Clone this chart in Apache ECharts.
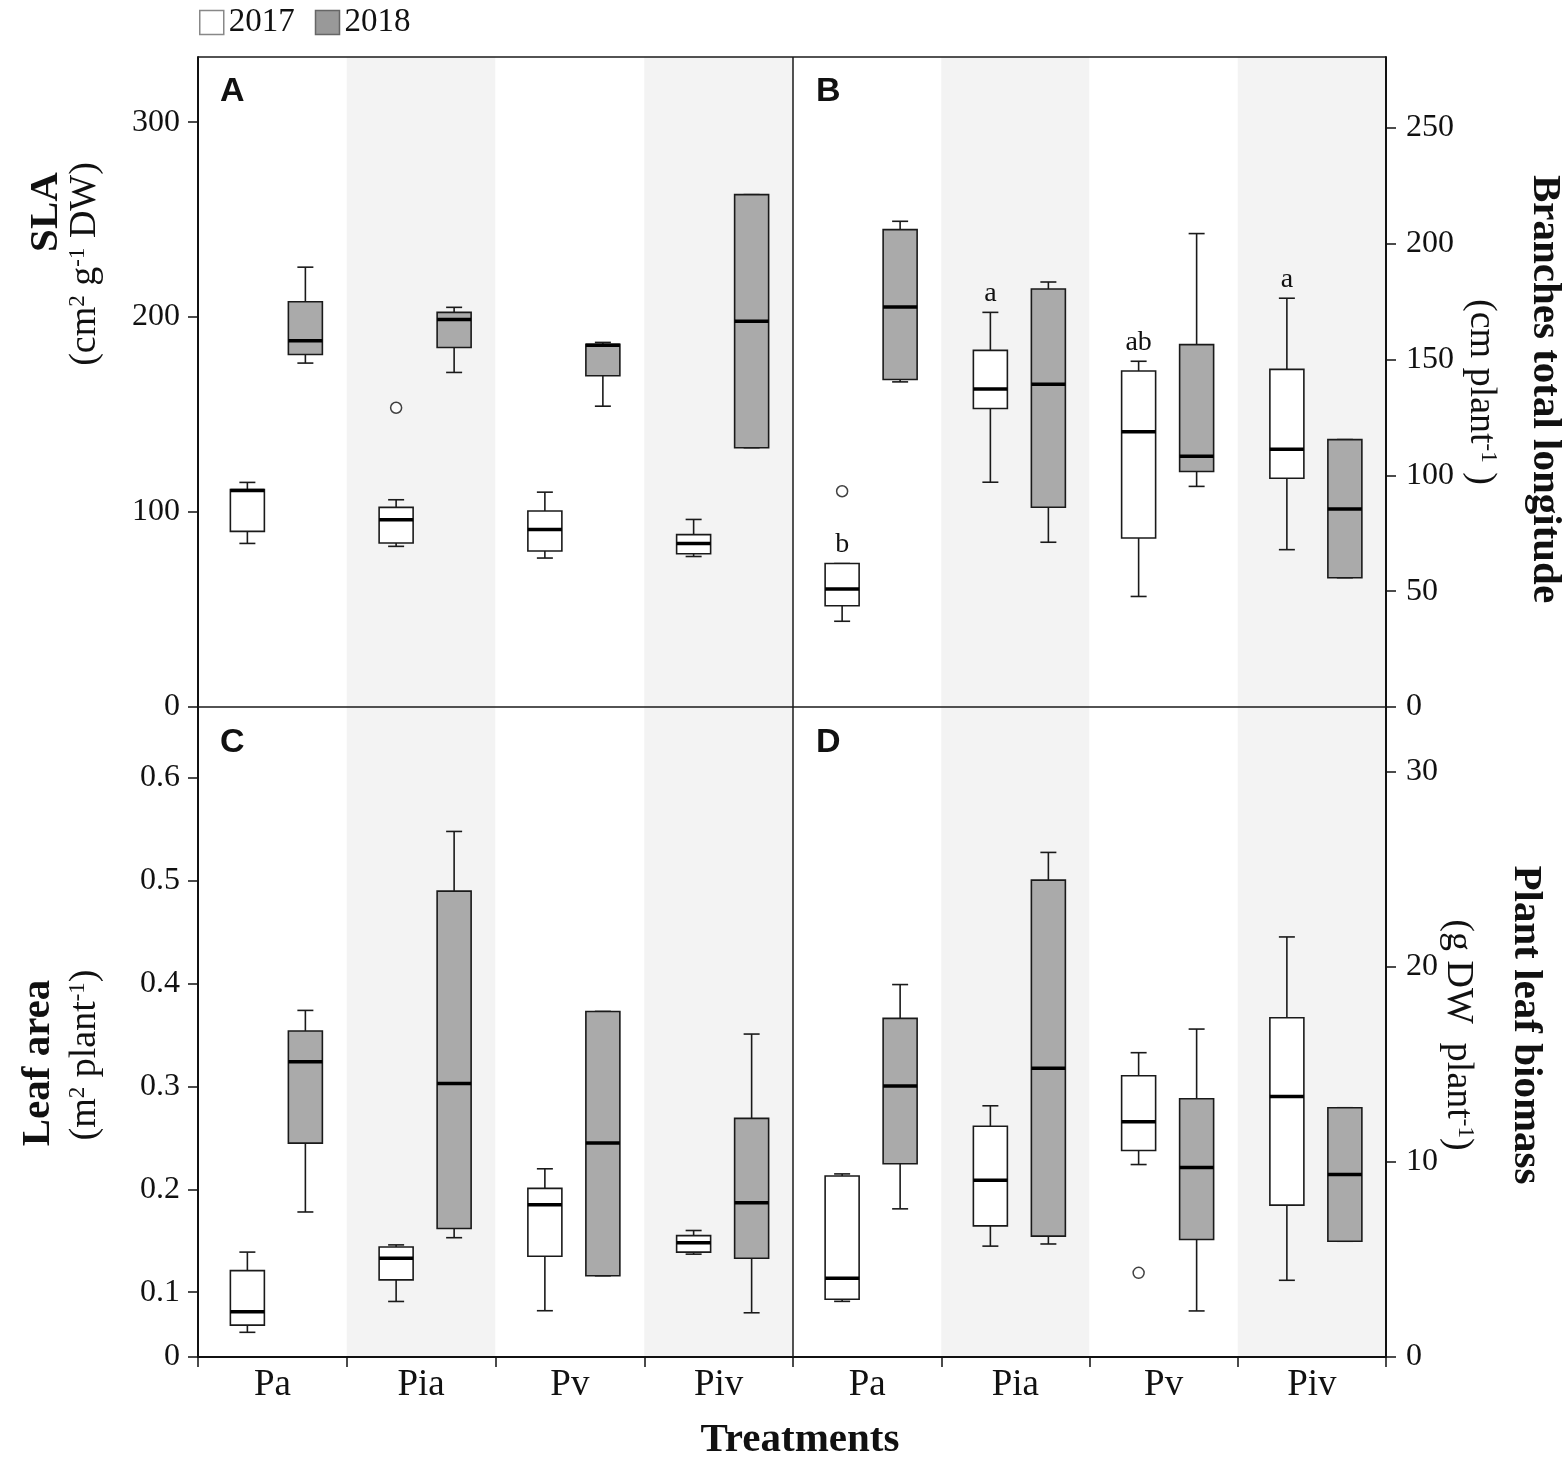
<!DOCTYPE html>
<html>
<head>
<meta charset="utf-8">
<title>SLA, branches, leaf area and leaf biomass</title>
<script src="https://cdn.jsdelivr.net/npm/echarts@6.0.0/dist/echarts.min.js"></script>
<style>
    html, body { margin: 0; padding: 0; background: #fff; }
    #main { width: 1566px; height: 1460px; }
</style>
</head>
<body>
<div id="main"></div>
<script>
var cats = ['Pa', 'Pia', 'Pv', 'Piv'];
var years = ['2017', '2018'];

// each box: [min, q1, median, q3, max], one per treatment
var sla2017 = [[83.9, 90.1, 111.0, 111.5, 115.2], [82.4, 84.1, 96.1, 102.4, 106.3], [76.4, 80.0, 91.1, 100.5, 110.2], [77.2, 78.6, 83.8, 88.4, 96.2]];
var sla2018 = [[176.4, 180.8, 187.9, 207.9, 225.6], [171.6, 184.4, 198.8, 202.4, 205.0], [154.3, 169.9, 185.6, 186.1, 187.0], [133.0, 133.0, 197.8, 262.8, 262.8]];
var slaOut2017 = [['Pia', 153.5]];

var branch2017 = [[37.0, 43.7, 50.9, 61.9, 61.9], [97.0, 128.8, 137.2, 153.9, 170.3], [47.7, 72.9, 118.8, 145.0, 149.2], [67.9, 98.7, 111.2, 145.7, 176.4]];
var branch2018 = [[140.3, 141.3, 172.6, 206.0, 209.6], [71.1, 86.2, 139.3, 180.4, 183.4], [95.2, 101.6, 108.2, 156.4, 204.3], [55.8, 55.8, 85.4, 115.4, 115.4]];
var branchOut2017 = [['Pa', 93.1]];
var branchLetters = ['b', 'a', 'ab', 'a'];

var leaf2017 = [[0.061, 0.068, 0.081, 0.121, 0.139], [0.091, 0.112, 0.133, 0.144, 0.146], [0.082, 0.135, 0.185, 0.201, 0.220], [0.137, 0.139, 0.148, 0.155, 0.160]];
var leaf2018 = [[0.178, 0.245, 0.324, 0.354, 0.374], [0.153, 0.162, 0.303, 0.490, 0.548], [0.116, 0.116, 0.245, 0.373, 0.373], [0.080, 0.133, 0.187, 0.269, 0.351]];

var biomass2017 = [[2.85, 2.96, 4.04, 9.27, 9.38], [5.68, 6.72, 9.06, 11.82, 12.87], [9.86, 10.58, 12.05, 14.41, 15.59], [3.93, 7.78, 13.35, 17.38, 21.52]];
var biomass2018 = [[7.59, 9.90, 13.88, 17.35, 19.08], [5.79, 6.19, 14.79, 24.43, 25.85], [2.36, 6.02, 9.71, 13.23, 16.80], [5.93, 5.93, 9.35, 12.77, 12.77]];
var biomassOut2017 = [['Pv', 4.31]];

// axis ticks
var slaTicks = [0, 100, 200, 300];
var branchTicks = [0, 50, 100, 150, 200, 250];
var leafMin = 0.037;
var leafTicks = [leafMin, 0.1, 0.2, 0.3, 0.4, 0.5, 0.6];
var leafTickText = ['0', '0.1', '0.2', '0.3', '0.4', '0.5', '0.6'];
var biomassTicks = [0, 10, 20, 30];

var SERIF = '"Liberation Serif", "Times New Roman", serif';
var SANS = '"Liberation Sans", Arial, sans-serif';
var INK = '#111';
var GREY = '#aaaaaa';
var OFF17 = -25, OFF18 = 33;   // box shift from band centre, px

function boxData(arr) {
    return arr.map(function (d, i) { return [i].concat(d); });
}

function boxItem(shift, fill, letters) {
    return function (params, api) {
        var i = api.value(0);
        var x = api.coord([i, 0])[0] + shift;
        var y = function (k) { return api.coord([i, api.value(k)])[1]; };
        var yMin = y(1), yQ1 = y(2), yMed = y(3), yQ3 = y(4), yMax = y(5);
        var hw = 17, cw = 8;
        var ln = { stroke: '#1a1a1a', lineWidth: 1.6 };
        var kids = [
            { type: 'line', shape: { x1: x, y1: yMax, x2: x, y2: yQ3 }, style: ln },
            { type: 'line', shape: { x1: x, y1: yQ1, x2: x, y2: yMin }, style: ln },
            { type: 'line', shape: { x1: x - cw, y1: yMax, x2: x + cw, y2: yMax }, style: ln },
            { type: 'line', shape: { x1: x - cw, y1: yMin, x2: x + cw, y2: yMin }, style: ln },
            { type: 'rect', shape: { x: x - hw, y: yQ3, width: 2 * hw, height: yQ1 - yQ3 },
              style: { fill: fill, stroke: '#1a1a1a', lineWidth: 1.6 } },
            { type: 'line', shape: { x1: x - hw, y1: yMed, x2: x + hw, y2: yMed },
              style: { stroke: '#000', lineWidth: 3.5 } }
        ];
        if (letters) {
            kids.push({ type: 'text', x: x, y: yMax - 19,
                style: { text: letters[i], fill: INK, font: '28px ' + SERIF, align: 'center', verticalAlign: 'middle' } });
        }
        return { type: 'group', children: kids };
    };
}

function boxSeries(name, grid, arr, shift, fill, letters) {
    return {
        type: 'custom', name: name, xAxisIndex: grid, yAxisIndex: grid,
        data: boxData(arr), renderItem: boxItem(shift, fill, letters),
        itemStyle: { color: fill, borderColor: '#666' }, z: 3
    };
}

function outSeries(grid, data) {
    return {
        type: 'scatter', xAxisIndex: grid, yAxisIndex: grid, data: data,
        symbol: 'circle', symbolSize: 11, symbolOffset: [OFF17, 0],
        itemStyle: { color: '#fff', borderColor: INK, borderWidth: 1.5 }, z: 4
    };
}

function xAxis(grid, bottom) {
    return {
        type: 'category', gridIndex: grid, data: cats, boundaryGap: true,
        axisLine: { show: bottom, onZero: false, lineStyle: { color: INK, width: 2 } },
        axisTick: { show: bottom, length: 10, lineStyle: { color: INK, width: 1.5 } },
        axisLabel: { show: bottom, margin: 10, fontFamily: SERIF, fontSize: 37, color: INK },
        splitLine: { show: false },
        splitArea: { show: true, areaStyle: { color: ['#ffffff', '#f3f3f3'] } }
    };
}

function yAxis(grid, pos, min, max, ticks, fmt) {
    return {
        type: 'value', gridIndex: grid, position: pos, min: min, max: max,
        splitLine: { show: false },
        axisLine: { show: true, lineStyle: { color: INK, width: 2 } },
        axisTick: { show: true, length: 10, customValues: ticks, lineStyle: { color: INK, width: 1.5 } },
        axisLabel: { customValues: ticks, formatter: fmt, margin: pos === 'left' ? 18 : 20,
                     fontFamily: SERIF, fontSize: 32, color: INK }
    };
}

function vText(x, y, rot, text, font) {
    return { type: 'text', x: x, y: y, rotation: rot, z: 20,
             style: { text: text, font: font, fill: INK, align: 'center', verticalAlign: 'middle' } };
}

function vRich(x, y, rot, text) {
    return { type: 'text', x: x, y: y, rotation: rot, z: 20,
             style: { text: text, fill: INK, align: 'center', verticalAlign: 'middle',
                      rich: { t: { fontFamily: SERIF, fontSize: 38, color: INK },
                              s: { fontFamily: SERIF, fontSize: 23, color: INK, verticalAlign: 'top' } } } };
}

function frameLine(x1, y1, x2, y2) {
    return { type: 'line', z: 30, shape: { x1: x1, y1: y1, x2: x2, y2: y2 },
             style: { stroke: '#1a1a1a', lineWidth: 1.5 } };
}

var myChart = echarts.init(document.getElementById('main'));

var option = {
    animation: false,
    backgroundColor: '#fff',
    legend: {
        left: 199, top: 6, padding: 0, itemWidth: 24, itemHeight: 24, itemGap: 20,
        textStyle: { fontFamily: SERIF, fontSize: 33, color: INK },
        data: [
            { name: years[0], icon: 'rect', itemStyle: { color: '#fff', borderColor: '#888', borderWidth: 1.5 } },
            { name: years[1], icon: 'rect', itemStyle: { color: '#999', borderColor: '#666', borderWidth: 1.5 } }
        ]
    },
    grid: [
        { left: 198, top: 57, width: 595, height: 650 },
        { left: 793, top: 57, width: 593, height: 650 },
        { left: 198, top: 707, width: 595, height: 650 },
        { left: 793, top: 707, width: 593, height: 650 }
    ],
    xAxis: [xAxis(0, false), xAxis(1, false), xAxis(2, true), xAxis(3, true)],
    yAxis: [
        yAxis(0, 'left', 0, 333.4, slaTicks),
        yAxis(1, 'right', 0, 280.5, branchTicks),
        yAxis(2, 'left', leafMin, 0.669, leafTicks, function (v) {
            for (var k = 0; k < leafTicks.length; k++) {
                if (Math.abs(leafTicks[k] - v) < 1e-6) return leafTickText[k];
            }
            return '';
        }),
        yAxis(3, 'right', 0, 33.3, biomassTicks)
    ],
    graphic: [
        frameLine(198, 57, 1386, 57),
        frameLine(793, 57, 793, 1357),
        frameLine(198, 707, 1386, 707),
        { type: 'text', x: 220, y: 92, z: 20, style: { text: 'A', font: 'bold 34px ' + SANS, fill: INK, align: 'left', verticalAlign: 'middle' } },
        { type: 'text', x: 816, y: 92, z: 20, style: { text: 'B', font: 'bold 34px ' + SANS, fill: INK, align: 'left', verticalAlign: 'middle' } },
        { type: 'text', x: 220, y: 743, z: 20, style: { text: 'C', font: 'bold 34px ' + SANS, fill: INK, align: 'left', verticalAlign: 'middle' } },
        { type: 'text', x: 816, y: 743, z: 20, style: { text: 'D', font: 'bold 34px ' + SANS, fill: INK, align: 'left', verticalAlign: 'middle' } },
        vText(46, 212, Math.PI / 2, 'SLA', 'bold 41px ' + SERIF),
        vRich(85, 264, Math.PI / 2, '{t|(cm}{s|2}{t| g}{s|-1}{t| DW)}'),
        vText(38, 1063, Math.PI / 2, 'Leaf area', 'bold 41px ' + SERIF),
        vRich(85, 1055, Math.PI / 2, '{t|(m}{s|2}{t| plant}{s|-1}{t|)}'),
        vText(1545, 389, -Math.PI / 2, 'Branches total longitude', 'bold 41px ' + SERIF),
        vRich(1481, 392, -Math.PI / 2, '{t|(cm plant}{s|-1}{t| )}'),
        vText(1526, 1025, -Math.PI / 2, 'Plant leaf biomass', 'bold 41px ' + SERIF),
        vRich(1458, 1035, -Math.PI / 2, '{t|(g DW  plant}{s|-1}{t|)}'),
        vText(800, 1440, 0, 'Treatments', 'bold 41px ' + SERIF)
    ],
    series: [
        boxSeries(years[0], 0, sla2017, OFF17, '#ffffff'),
        boxSeries(years[1], 0, sla2018, OFF18, GREY),
        outSeries(0, slaOut2017),
        boxSeries(years[0], 1, branch2017, OFF17, '#ffffff', branchLetters),
        boxSeries(years[1], 1, branch2018, OFF18, GREY),
        outSeries(1, branchOut2017),
        boxSeries(years[0], 2, leaf2017, OFF17, '#ffffff'),
        boxSeries(years[1], 2, leaf2018, OFF18, GREY),
        boxSeries(years[0], 3, biomass2017, OFF17, '#ffffff'),
        boxSeries(years[1], 3, biomass2018, OFF18, GREY),
        outSeries(3, biomassOut2017)
    ]
};
myChart.setOption(option);
</script>
</body>
</html>
